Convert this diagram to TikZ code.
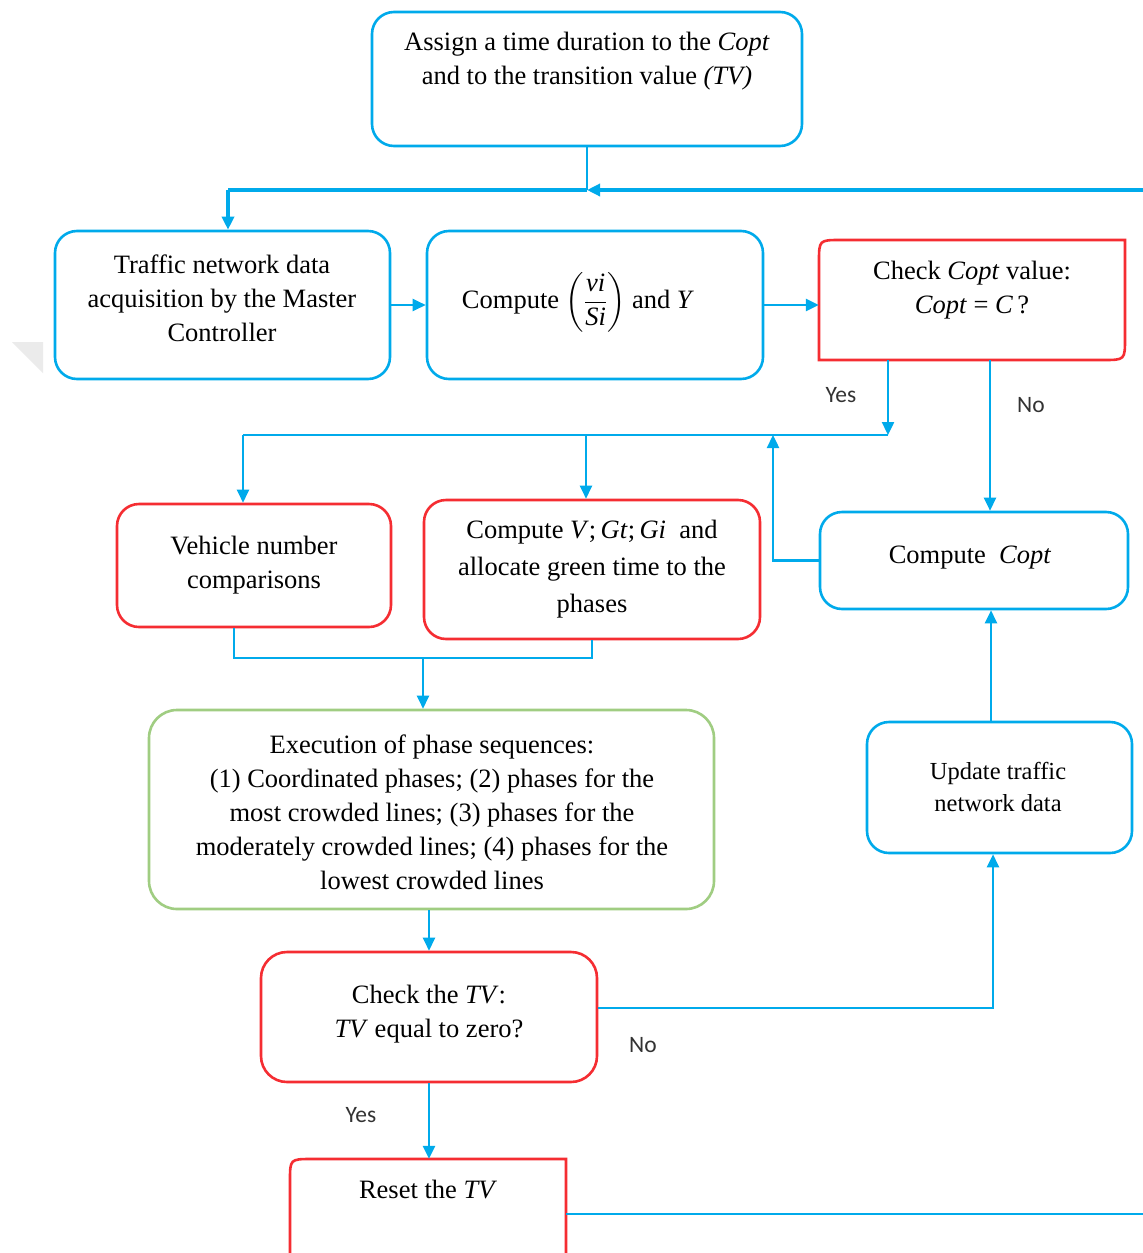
\documentclass[tikz,border=0pt]{standalone}
\usepackage{amsmath}
\usepackage{fontspec}
\setmainfont{Liberation Serif}
\newfontfamily\lblfont{Carlito}
\usetikzlibrary{arrows.meta}
\definecolor{cblue}{RGB}{0,170,235}
\definecolor{cred}{RGB}{245,45,50}
\definecolor{cgreen}{RGB}{160,205,130}
\begin{document}
\begin{tikzpicture}[x=1pt,y=-1pt,
  bx/.style={draw=cblue, line width=2.6pt, rounded corners=22pt, inner sep=0pt},
  rbx/.style={draw=cred, line width=2.6pt, rounded corners=22pt, inner sep=0pt},
  gbx/.style={draw=cgreen, line width=2.6pt, rounded corners=28pt, inner sep=0pt},
  hbx/.style={draw=none, inner sep=0pt},
  redline/.style={draw=cred, line width=2.6pt},
  txt/.style={align=center, font=\fontsize{26.5}{34}\selectfont, inner sep=0pt},
  lbl/.style={font=\lblfont\fontsize{23.5}{26}\selectfont, text=black!80, inner sep=0pt},
  conn/.style={draw=cblue, line width=2.4pt},
  arr/.style={conn, -{Triangle[length=13pt,width=12pt]}},
]
\useasboundingbox (0,0) rectangle (1143,1253);
\clip (0,0) rectangle (1143,1253);
\fill[white] (0,0) rectangle (1143,1253);
\fill[black!8] (12,342) -- (43,342) -- (43,373) -- cycle;

% boxes
\node[bx, minimum width=430pt, minimum height=134pt] (assign) at (587,79) {};
\node[bx, minimum width=335pt, minimum height=148pt] (traffic) at (222.5,305) {};
\node[bx, minimum width=336pt, minimum height=148pt] (comp1) at (595,305) {};
\node[hbx, minimum width=306pt, minimum height=120pt] (chk) at (972,300) {};
\draw[redline] (819,360) -- (819,262) .. controls (819,240) .. (841,240) -- (1125,240) -- (1125,338) .. controls (1125,360) .. (1103,360) -- cycle;
\node[rbx, minimum width=274pt, minimum height=123pt] (veh) at (254,565.5) {};
\node[rbx, minimum width=336pt, minimum height=139pt] (compV) at (592,569.5) {};
\node[bx, minimum width=308pt, minimum height=97pt] (copt) at (974,560.5) {};
\node[bx, minimum width=265pt, minimum height=131pt] (upd) at (999.5,787.5) {};
\node[gbx, minimum width=565pt, minimum height=199pt] (exec) at (431.5,809.5) {};
\node[rbx, minimum width=336pt, minimum height=130pt, rounded corners=26pt] (chkTV) at (429,1017) {};
\node[hbx, minimum width=276pt, minimum height=131pt] (reset) at (428,1224.5) {};
\draw[redline] (290,1300) -- (290,1181) .. controls (290,1159) .. (312,1159) -- (566,1159) -- (566,1300);

% texts
\node[txt] (tassign) at (587,61) {Assign a time duration to the \textit{Copt}\\and to the transition value \textit{(TV)}};
\node[txt] (ttraffic) at (222,298) {Traffic network data\\acquisition by the Master\\Controller};
\node[txt] (tcomp1) at (578,302) {Compute $\left(\dfrac{\textit{vi}}{\textit{Si}}\right)$ and \textit{Y}};
\node[txt] (tchk) at (972,290) {Check \textit{Copt} value:\\\textit{Copt} = \textit{C}\,?};
\node[txt] (tveh) at (254,565) {Vehicle number\\comparisons};
\node[txt, font=\fontsize{26.5}{37}\selectfont] (tcompV) at (592,569) {Compute \textit{V};\,\textit{Gt};\,\textit{Gi}\ \ and\\allocate green time to the\\phases};
\node[txt] (tcopt) at (970,558) {Compute\ \ \textit{Copt}};
\node[txt, font=\fontsize{24.5}{32}\selectfont] (tupd) at (998,787) {Update traffic\\network data};
\node[txt] (texec) at (432,812) {Execution of phase sequences:\\(1) Coordinated phases; (2) phases for the\\most crowded lines; (3) phases for the\\moderately crowded lines; (4) phases for the\\lowest crowded lines};
\node[txt] (tchkTV) at (429,1014) {Check the \textit{TV}:\\\textit{TV} equal to zero?};
\node[txt] (treset) at (428,1189) {Reset the \textit{TV}};

% labels
\node[lbl] (lyes1) at (841,395) {Yes};
\node[lbl] (lno1) at (1031,405) {No};
\node[lbl] (lno2) at (643,1045) {No};
\node[lbl] (lyes2) at (361,1115) {Yes};

% junction coordinates
\coordinate (jA) at (587,190);
\coordinate (jL) at (228,190);
\coordinate (eR) at (1143,190);
\coordinate (yA) at (888,435);
\coordinate (yL) at (243,435);
\coordinate (yM) at (586,435);
\coordinate (nX) at (990,400);
\coordinate (lp) at (773,435);
\coordinate (vS) at (234,658);
\coordinate (m) at (423,658);
\coordinate (nT) at (993,1008);
\coordinate (uX) at (991,700);
\coordinate (rE) at (1143,1214);

% connectors
\draw[conn] (assign.south) -- (jA);
\draw[conn, line width=4.5pt, -{Triangle[length=13pt,width=12pt]}] (eR) -- (jA);
\draw[conn, line width=4.5pt] (jA) -- (jL);
\draw[arr, line width=3.6pt] (jL) -- (jL |- traffic.north);
\draw[arr] (traffic.east) -- (comp1.west);
\draw[arr] (comp1.east) -- (comp1.east -| chk.west);
\draw[arr] (yA |- chk.south) -- (yA);
\draw[conn] (yA) -- (yL);
\draw[arr] (yL) -- (yL |- veh.north);
\draw[arr] (yM) -- (yM |- compV.north);
\draw[arr] (nX |- chk.south) -- (nX |- copt.north);
\draw[arr] (copt.west) -| (lp);
\draw[conn] (vS |- veh.south) -- (vS) -- (vS -| compV.south) -- (compV.south);
\draw[arr] (m) -- (m |- exec.north);
\draw[arr] (chkTV.north |- exec.south) -- (chkTV.north);
\draw[arr] (chkTV.east |- nT) -- (nT) -- (nT |- upd.south);
\draw[arr] (uX |- upd.north) -- (uX |- copt.south);
\draw[arr] (chkTV.south) -- (chkTV.south |- reset.north);
\draw[conn] (reset.east |- rE) -- (rE);
\end{tikzpicture}
\end{document}
